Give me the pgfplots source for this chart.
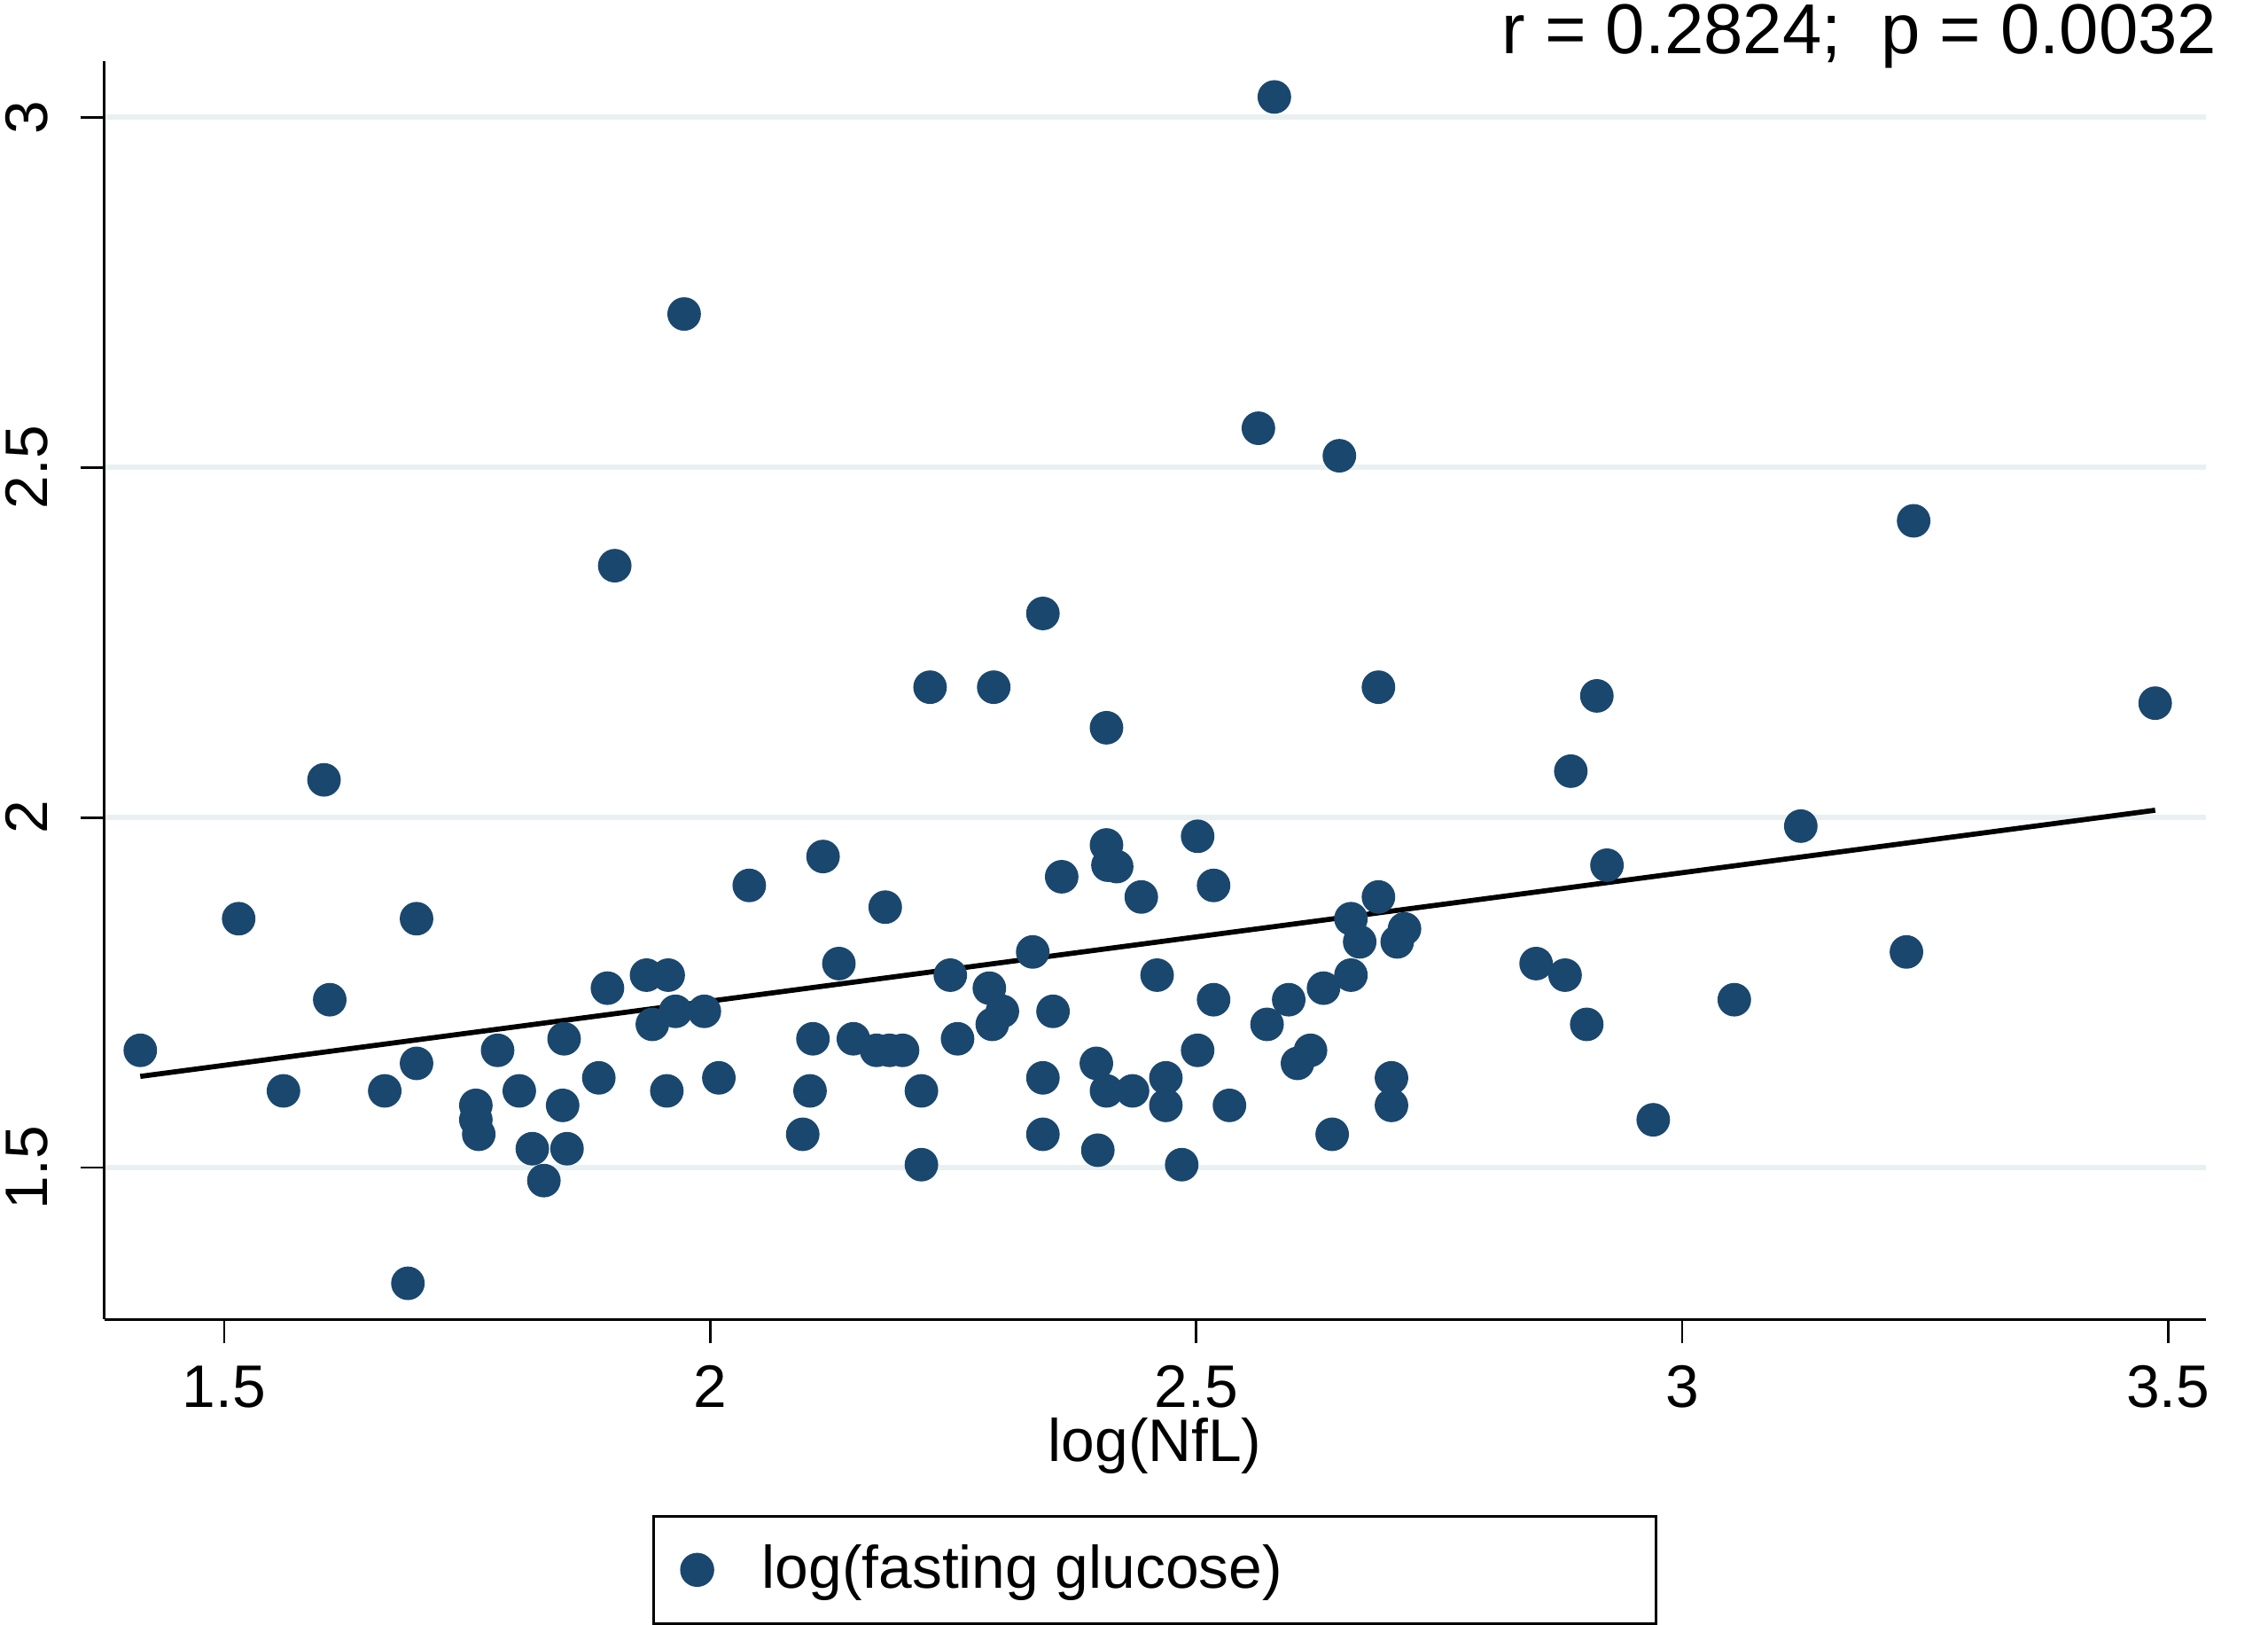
\documentclass[border=0pt]{standalone}
\usepackage{fontspec}
\setmainfont{Liberation Sans}
\usepackage{pgfplots}
\pgfplotsset{compat=1.18}
\definecolor{statanavy}{RGB}{26,71,110}
\definecolor{gridc}{RGB}{232,240,242}
\begin{document}
\begin{tikzpicture}
\begin{axis}[
  scale only axis, width=14.53cm, height=8.70cm,
  xmin=1.3765, xmax=3.5387, ymin=1.283, ymax=3.0806,
  axis lines*=left,
  axis line style={line width=0.5pt},
  xtick={1.5,2,2.5,3,3.5}, ytick={1.5,2,2.5,3},
  tick align=outside, major tick length=0.165cm,
  tick style={black, line width=0.5pt},
  ymajorgrids, grid style={gridc, line width=1pt},
  font=\fontsize{11.8pt}{14pt}\selectfont,
  /pgf/number format/assume math mode=true,
  xticklabel={\pgfmathprintnumber{\tick}},
  yticklabel={\pgfmathprintnumber{\tick}},
  yticklabel style={rotate=90, anchor=south, yshift=0.1cm},
  xticklabel style={yshift=-0.03cm},
  xlabel={log(NfL)},
  xlabel style={at={(axis description cs:0.5,0)}, anchor=base, yshift=-0.98cm},
  legend style={at={(axis description cs:0.5,0)}, anchor=north, yshift=-1.35cm,
    draw=black, line width=0.5pt, inner xsep=0.19cm, inner ysep=0.195cm,
    column sep=0.34cm, nodes={inner sep=0pt}},
  legend cell align=left,
  clip=false,
]
\addplot[only marks, mark=*, mark size=3.1pt, color=statanavy] coordinates {
(1.4137,1.6674) (1.5149,1.8554) (1.5610,1.6095) (1.6027,2.0537) (1.6086,1.7397)
(1.6652,1.6095) (1.6979,1.8554) (1.6979,1.6488) (1.6890,1.3347) (1.7589,1.5888)
(1.7589,1.5682) (1.7619,1.5475) (1.7813,1.6674) (1.8036,1.6095) (1.8170,1.5269)
(1.8289,1.4814) (1.8497,1.6839) (1.8482,1.5888) (1.8527,1.5269) (1.8854,1.6281)
(1.8943,1.7562) (1.9018,2.3595) (1.9345,1.7748) (1.9405,1.7045) (1.9568,1.7748)
(1.9643,1.7231) (1.9554,1.6095) (1.9732,2.7190) (1.9940,1.7231) (2.0089,1.6281)
(2.0402,1.9029) (2.0952,1.5475) (2.1027,1.6095) (2.1057,1.6839) (2.1161,1.9442)
(2.1324,1.7913) (2.1473,1.6839) (2.1801,1.8719) (2.1711,1.6674) (2.1845,1.6674)
(2.1979,1.6674) (2.2173,1.6095) (2.2173,1.5041) (2.2262,2.1860) (2.2470,1.7748)
(2.2545,1.6839) (2.2872,1.7562) (2.2917,2.1860) (2.2902,1.7045) (2.3006,1.7231)
(2.3318,1.8079) (2.3423,2.2913) (2.3423,1.6281) (2.3423,1.5475) (2.3527,1.7231)
(2.3616,1.9153) (2.3973,1.6488) (2.3988,1.5248) (2.4077,2.1281) (2.4077,1.9607)
(2.4092,1.9318) (2.4182,1.9298) (2.4077,1.6095) (2.4345,1.6095) (2.4435,1.8864)
(2.4598,1.7748) (2.4688,1.6281) (2.4688,1.5888) (2.4851,1.5041) (2.5015,1.9731)
(2.5015,1.6674) (2.5179,1.9029) (2.5179,1.7397) (2.5342,1.5888) (2.5640,2.5558)
(2.5729,1.7045) (2.5804,3.0289) (2.5952,1.7397) (2.6042,1.6488) (2.6176,1.6674)
(2.6310,1.7562) (2.6399,1.5475) (2.6473,2.5165) (2.6592,1.8554) (2.6592,1.7748)
(2.6682,1.8223) (2.6875,2.1860) (2.6875,1.8864) (2.7009,1.6281) (2.7009,1.5888)
(2.7068,1.8223) (2.7143,1.8409) (2.8497,1.7913) (2.8795,1.7748) (2.8854,2.0661)
(2.9018,1.7045) (2.9122,2.1736) (2.9226,1.9318) (2.9702,1.5682) (3.0536,1.7397)
(3.1220,1.9876) (3.2307,1.8079) (3.2381,2.4236) (3.4866,2.1632)
};
\addlegendentry{\makebox[5.99cm][l]{log(fasting glucose)}}
\addplot[black, line width=1pt, forget plot] coordinates {(1.4137,1.6302) (3.4866,2.0103)};
\end{axis}
\node[anchor=base east, font=\fontsize{13.9pt}{16pt}\selectfont] at (14.73,8.75) {r = 0.2824;\ \ p = 0.0032};
\pgfresetboundingbox
\path[use as bounding box] (-0.72,-2.11) rectangle (14.96,9.12);
\end{tikzpicture}
\end{document}
